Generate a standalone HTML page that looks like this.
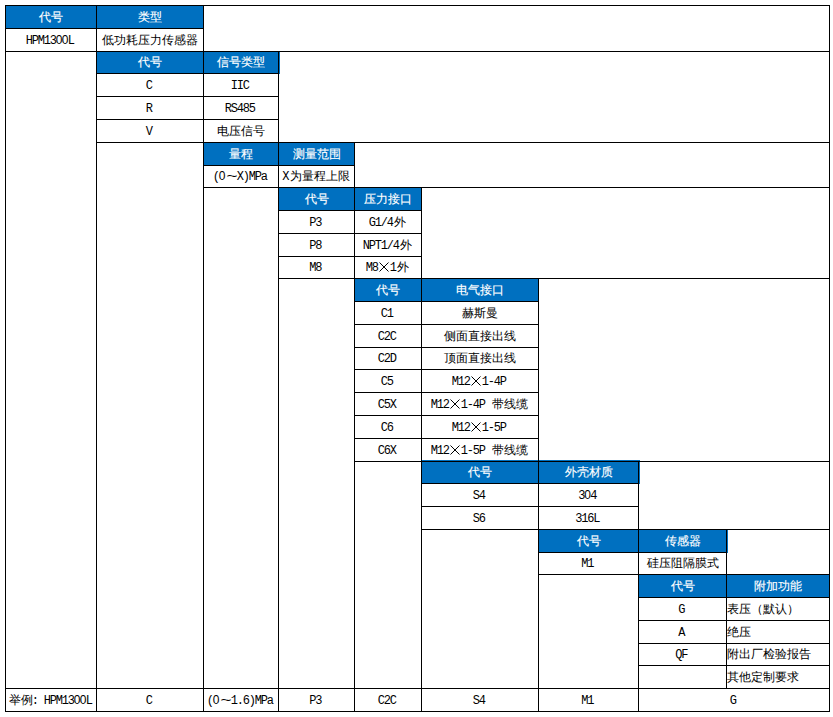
<!DOCTYPE html>
<html><head><meta charset="utf-8"><title>HPM1300L</title>
<style>
html,body{margin:0;padding:0;background:#fff}
body{width:833px;height:717px;position:relative;overflow:hidden;font-family:"Liberation Sans",sans-serif;font-size:12px;color:#000}
.ln{position:absolute;background:#000}
.b{position:absolute;background:#0070C0}
.cell{position:absolute;text-align:center;white-space:nowrap;overflow:visible;font-size:12px}
.cell.h{background:#0070C0;color:#fff}
.cell.h .c{-webkit-text-stroke:0.15px #fff}
.cell.left{text-align:left}
.l{font-family:"Liberation Mono",monospace;letter-spacing:-1.2px;white-space:pre;position:relative;left:-1.2px}
.x{display:inline-block;vertical-align:-2px;position:relative;left:-1.2px}
.z{font-family:"Liberation Sans",sans-serif;letter-spacing:-0.67px}
.t{transform:scaleX(1.6)}
.w{font-family:"Liberation Mono",monospace;display:inline-block;width:12px;text-align:center}
.c{font-family:"Liberation Sans",sans-serif}
</style></head><body>
<div class="cell h" style="left:6px;top:6px;width:90px;height:22px;line-height:22px"><span class="c">代号</span></div>
<div class="cell h" style="left:97px;top:6px;width:106px;height:22px;line-height:22px"><span class="c">类型</span></div>
<div class="cell h" style="left:97px;top:52px;width:106px;height:21px;line-height:21px"><span class="c">代号</span></div>
<div class="cell h" style="left:204px;top:52px;width:74px;height:21px;line-height:21px"><span class="c">信号类型</span></div>
<div class="cell h" style="left:204px;top:143px;width:74px;height:22px;line-height:22px"><span class="c">量程</span></div>
<div class="cell h" style="left:279px;top:143px;width:75px;height:22px;line-height:22px"><span class="c">测量范围</span></div>
<div class="cell h" style="left:279px;top:188px;width:75px;height:22px;line-height:22px"><span class="c">代号</span></div>
<div class="cell h" style="left:355px;top:188px;width:66px;height:22px;line-height:22px"><span class="c">压力接口</span></div>
<div class="cell h" style="left:355px;top:279px;width:66px;height:22px;line-height:22px"><span class="c">代号</span></div>
<div class="cell h" style="left:422px;top:279px;width:116px;height:22px;line-height:22px"><span class="c">电气接口</span></div>
<div class="cell h" style="left:422px;top:462px;width:116px;height:21px;line-height:21px"><span class="c">代号</span></div>
<div class="cell h" style="left:539px;top:462px;width:99px;height:21px;line-height:21px"><span class="c">外壳材质</span></div>
<div class="cell h" style="left:539px;top:530px;width:99px;height:22px;line-height:22px"><span class="c">代号</span></div>
<div class="cell h" style="left:639px;top:530px;width:87px;height:22px;line-height:22px"><span class="c">传感器</span></div>
<div class="cell h" style="left:639px;top:575px;width:87px;height:22px;line-height:22px"><span class="c">代号</span></div>
<div class="cell h" style="left:727px;top:575px;width:102px;height:22px;line-height:22px"><span class="c">附加功能</span></div>
<div class="cell" style="left:6px;top:29px;width:90px;height:22px;line-height:22px"><span class="l">HPM13<span class="z">0</span><span class="z">0</span>L</span></div>
<div class="cell" style="left:97px;top:29px;width:106px;height:22px;line-height:22px"><span class="c">低功耗压力传感器</span></div>
<div class="cell" style="left:97px;top:74px;width:106px;height:22px;line-height:22px"><span class="l">C</span></div>
<div class="cell" style="left:204px;top:74px;width:74px;height:22px;line-height:22px"><span class="l">IIC</span></div>
<div class="cell" style="left:97px;top:97px;width:106px;height:22px;line-height:22px"><span class="l">R</span></div>
<div class="cell" style="left:204px;top:97px;width:74px;height:22px;line-height:22px"><span class="l">RS485</span></div>
<div class="cell" style="left:97px;top:120px;width:106px;height:22px;line-height:22px"><span class="l">V</span></div>
<div class="cell" style="left:204px;top:120px;width:74px;height:22px;line-height:22px"><span class="c">电压信号</span></div>
<div class="cell" style="left:204px;top:166px;width:74px;height:21px;line-height:21px"><span class="l">(<span class="z">0</span></span><span class="w t">~</span><span class="l">X)MPa</span></div>
<div class="cell" style="left:279px;top:166px;width:75px;height:21px;line-height:21px"><span class="l">X</span><span class="c">为量程上限</span></div>
<div class="cell" style="left:279px;top:211px;width:75px;height:22px;line-height:22px"><span class="l">P3</span></div>
<div class="cell" style="left:355px;top:211px;width:66px;height:22px;line-height:22px"><span class="l">G1/4</span><span class="c">外</span></div>
<div class="cell" style="left:279px;top:234px;width:75px;height:22px;line-height:22px"><span class="l">P8</span></div>
<div class="cell" style="left:355px;top:234px;width:66px;height:22px;line-height:22px"><span class="l">NPT1/4</span><span class="c">外</span></div>
<div class="cell" style="left:279px;top:257px;width:75px;height:21px;line-height:21px"><span class="l">M8</span></div>
<div class="cell" style="left:355px;top:257px;width:66px;height:21px;line-height:21px"><span class="l">M8</span><svg class="x" width="12" height="12" viewBox="0 0 12 12"><path d="M1.5 1.5L10.5 10.5M10.5 1.5L1.5 10.5" stroke="#000" stroke-width="1" fill="none"/></svg><span class="l">1</span><span class="c">外</span></div>
<div class="cell" style="left:355px;top:302px;width:66px;height:22px;line-height:22px"><span class="l">C1</span></div>
<div class="cell" style="left:422px;top:302px;width:116px;height:22px;line-height:22px"><span class="c">赫斯曼</span></div>
<div class="cell" style="left:355px;top:325px;width:66px;height:22px;line-height:22px"><span class="l">C2C</span></div>
<div class="cell" style="left:422px;top:325px;width:116px;height:22px;line-height:22px"><span class="c">侧面直接出线</span></div>
<div class="cell" style="left:355px;top:348px;width:66px;height:21px;line-height:21px"><span class="l">C2D</span></div>
<div class="cell" style="left:422px;top:348px;width:116px;height:21px;line-height:21px"><span class="c">顶面直接出线</span></div>
<div class="cell" style="left:355px;top:370px;width:66px;height:22px;line-height:22px"><span class="l">C5</span></div>
<div class="cell" style="left:422px;top:370px;width:116px;height:22px;line-height:22px"><span class="l">M12</span><svg class="x" width="12" height="12" viewBox="0 0 12 12"><path d="M1.5 1.5L10.5 10.5M10.5 1.5L1.5 10.5" stroke="#000" stroke-width="1" fill="none"/></svg><span class="l">1-4P</span></div>
<div class="cell" style="left:355px;top:393px;width:66px;height:22px;line-height:22px"><span class="l">C5X</span></div>
<div class="cell" style="left:422px;top:393px;width:116px;height:22px;line-height:22px"><span class="l">M12</span><svg class="x" width="12" height="12" viewBox="0 0 12 12"><path d="M1.5 1.5L10.5 10.5M10.5 1.5L1.5 10.5" stroke="#000" stroke-width="1" fill="none"/></svg><span class="l">1-4P </span><span class="c">带线缆</span></div>
<div class="cell" style="left:355px;top:416px;width:66px;height:22px;line-height:22px"><span class="l">C6</span></div>
<div class="cell" style="left:422px;top:416px;width:116px;height:22px;line-height:22px"><span class="l">M12</span><svg class="x" width="12" height="12" viewBox="0 0 12 12"><path d="M1.5 1.5L10.5 10.5M10.5 1.5L1.5 10.5" stroke="#000" stroke-width="1" fill="none"/></svg><span class="l">1-5P</span></div>
<div class="cell" style="left:355px;top:439px;width:66px;height:22px;line-height:22px"><span class="l">C6X</span></div>
<div class="cell" style="left:422px;top:439px;width:116px;height:22px;line-height:22px"><span class="l">M12</span><svg class="x" width="12" height="12" viewBox="0 0 12 12"><path d="M1.5 1.5L10.5 10.5M10.5 1.5L1.5 10.5" stroke="#000" stroke-width="1" fill="none"/></svg><span class="l">1-5P </span><span class="c">带线缆</span></div>
<div class="cell" style="left:422px;top:484px;width:116px;height:22px;line-height:22px"><span class="l">S4</span></div>
<div class="cell" style="left:539px;top:484px;width:99px;height:22px;line-height:22px"><span class="l">3<span class="z">0</span>4</span></div>
<div class="cell" style="left:422px;top:507px;width:116px;height:22px;line-height:22px"><span class="l">S6</span></div>
<div class="cell" style="left:539px;top:507px;width:99px;height:22px;line-height:22px"><span class="l">316L</span></div>
<div class="cell" style="left:539px;top:553px;width:99px;height:21px;line-height:21px"><span class="l">M1</span></div>
<div class="cell" style="left:639px;top:553px;width:87px;height:21px;line-height:21px"><span class="c">硅压阻隔膜式</span></div>
<div class="cell" style="left:639px;top:598px;width:87px;height:22px;line-height:22px"><span class="l">G</span></div>
<div class="cell" style="left:639px;top:621px;width:87px;height:22px;line-height:22px"><span class="l">A</span></div>
<div class="cell" style="left:639px;top:644px;width:87px;height:21px;line-height:21px"><span class="l">QF</span></div>
<div class="cell" style="left:97px;top:689px;width:106px;height:22px;line-height:22px"><span class="l">C</span></div>
<div class="cell" style="left:204px;top:689px;width:74px;height:22px;line-height:22px"><span class="l">(<span class="z">0</span></span><span class="w t">~</span><span class="l">1.6)MPa</span></div>
<div class="cell" style="left:279px;top:689px;width:75px;height:22px;line-height:22px"><span class="l">P3</span></div>
<div class="cell" style="left:355px;top:689px;width:66px;height:22px;line-height:22px"><span class="l">C2C</span></div>
<div class="cell" style="left:422px;top:689px;width:116px;height:22px;line-height:22px"><span class="l">S4</span></div>
<div class="cell" style="left:539px;top:689px;width:99px;height:22px;line-height:22px"><span class="l">M1</span></div>
<div class="cell" style="left:639px;top:689px;width:190px;height:22px;line-height:22px"><span class="l">G</span></div>
<div class="cell left" style="left:727px;top:598px;width:102px;height:22px;line-height:22px"><span class="c">表压（默认）</span></div>
<div class="cell left" style="left:727px;top:621px;width:102px;height:22px;line-height:22px"><span class="c">绝压</span></div>
<div class="cell left" style="left:727px;top:644px;width:102px;height:21px;line-height:21px"><span class="c">附出厂检验报告</span></div>
<div class="cell left" style="left:727px;top:666px;width:102px;height:22px;line-height:22px"><span class="c">其他定制要求</span></div>
<div class="cell left" style="left:6px;top:689px;width:90px;height:22px;line-height:22px;text-indent:3px"><span class="c">举例</span><span class="l">: HPM13<span class="z">0</span><span class="z">0</span>L</span></div>
<div class="b" style="left:279px;top:52px;width:1px;height:22px"></div>
<div class="b" style="left:421px;top:460px;width:219px;height:1px"></div>
<div class="b" style="left:639px;top:460px;width:1px;height:24px"></div>
<div class="b" style="left:727px;top:530px;width:1px;height:23px"></div>
<div class="ln" style="left:5px;top:5px;width:825px;height:1px"></div>
<div class="ln" style="left:5px;top:28px;width:199px;height:1px"></div>
<div class="ln" style="left:5px;top:51px;width:825px;height:1px"></div>
<div class="ln" style="left:96px;top:73px;width:183px;height:1px"></div>
<div class="ln" style="left:96px;top:96px;width:183px;height:1px"></div>
<div class="ln" style="left:96px;top:119px;width:183px;height:1px"></div>
<div class="ln" style="left:96px;top:142px;width:734px;height:1px"></div>
<div class="ln" style="left:203px;top:165px;width:152px;height:1px"></div>
<div class="ln" style="left:203px;top:187px;width:627px;height:1px"></div>
<div class="ln" style="left:278px;top:210px;width:144px;height:1px"></div>
<div class="ln" style="left:278px;top:233px;width:144px;height:1px"></div>
<div class="ln" style="left:278px;top:256px;width:144px;height:1px"></div>
<div class="ln" style="left:278px;top:278px;width:552px;height:1px"></div>
<div class="ln" style="left:354px;top:301px;width:185px;height:1px"></div>
<div class="ln" style="left:354px;top:324px;width:185px;height:1px"></div>
<div class="ln" style="left:354px;top:347px;width:185px;height:1px"></div>
<div class="ln" style="left:354px;top:369px;width:185px;height:1px"></div>
<div class="ln" style="left:354px;top:392px;width:185px;height:1px"></div>
<div class="ln" style="left:354px;top:415px;width:185px;height:1px"></div>
<div class="ln" style="left:354px;top:438px;width:185px;height:1px"></div>
<div class="ln" style="left:354px;top:461px;width:476px;height:1px"></div>
<div class="ln" style="left:421px;top:483px;width:218px;height:1px"></div>
<div class="ln" style="left:421px;top:506px;width:218px;height:1px"></div>
<div class="ln" style="left:421px;top:529px;width:409px;height:1px"></div>
<div class="ln" style="left:538px;top:552px;width:189px;height:1px"></div>
<div class="ln" style="left:538px;top:574px;width:292px;height:1px"></div>
<div class="ln" style="left:638px;top:597px;width:192px;height:1px"></div>
<div class="ln" style="left:638px;top:620px;width:192px;height:1px"></div>
<div class="ln" style="left:638px;top:643px;width:192px;height:1px"></div>
<div class="ln" style="left:638px;top:665px;width:192px;height:1px"></div>
<div class="ln" style="left:5px;top:688px;width:825px;height:1px"></div>
<div class="ln" style="left:5px;top:711px;width:825px;height:1px"></div>
<div class="ln" style="left:5px;top:5px;width:1px;height:707px"></div>
<div class="ln" style="left:96px;top:5px;width:1px;height:707px"></div>
<div class="ln" style="left:203px;top:5px;width:1px;height:707px"></div>
<div class="ln" style="left:278px;top:51px;width:1px;height:661px"></div>
<div class="ln" style="left:354px;top:142px;width:1px;height:570px"></div>
<div class="ln" style="left:421px;top:187px;width:1px;height:525px"></div>
<div class="ln" style="left:538px;top:278px;width:1px;height:434px"></div>
<div class="ln" style="left:638px;top:461px;width:1px;height:251px"></div>
<div class="ln" style="left:726px;top:529px;width:1px;height:160px"></div>
<div class="ln" style="left:829px;top:5px;width:1px;height:707px"></div>
</body></html>
